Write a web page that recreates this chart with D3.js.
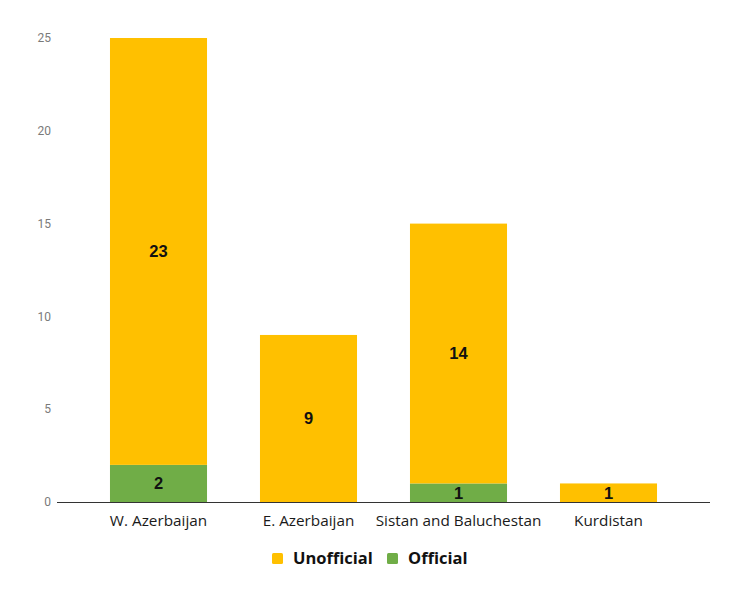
<!DOCTYPE html>
<html><head><meta charset="utf-8">
<script src="https://cdn.jsdelivr.net/npm/d3@7/dist/d3.min.js"></script>
<style>body{margin:0;background:#fff;} svg{display:block;}</style>
</head><body>
<svg id="c" width="739" height="600"></svg>
<script>
const categories = ["W. Azerbaijan", "E. Azerbaijan", "Sistan and Baluchestan", "Kurdistan"];
const official = [2, 0, 1, 0];
const unofficial = [23, 9, 14, 1];
const seriesNames = ["Official", "Unofficial"];
const seriesColors = ["#70ad47", "#ffc000"];
const yTicks = [0, 5, 10, 15, 20, 25];

const svg = d3.select("#c");
const rows = categories.map((c, i) => ({cat: c, Official: official[i], Unofficial: unofficial[i]}));
const stack = d3.stack().keys(seriesNames)(rows);

const x = d3.scaleBand().domain(categories).range([83.5, 683.5]).paddingInner(0.353).paddingOuter(0.1765);
const y = d3.scaleLinear().domain([0, 25]).range([502, 38]);

// y tick labels
svg.append("g").selectAll("text").data(yTicks).join("text")
  .attr("x", 51).attr("y", d => y(d)).attr("dy", "0.35em")
  .attr("text-anchor", "end")
  .attr("font-family", "Roboto, sans-serif").attr("font-size", 12).attr("fill", "#7a7a7a")
  .text(d => d);

// bars
const layers = svg.append("g").selectAll("g").data(stack).join("g")
  .attr("fill", (d, i) => seriesColors[i]);
layers.selectAll("rect").data(d => d.filter(s => s[1] - s[0] > 0)).join("rect")
  .attr("x", d => x(d.data.cat)).attr("width", x.bandwidth())
  .attr("y", d => y(d[1])).attr("height", d => y(d[0]) - y(d[1]));

// data labels
stack.forEach(layer => {
  svg.append("g").selectAll("text").data(layer.filter(s => s[1] - s[0] > 0)).join("text")
    .attr("x", d => x(d.data.cat) + x.bandwidth() / 2)
    .attr("y", d => (y(d[0]) + y(d[1])) / 2).attr("dy", "0.36em")
    .attr("text-anchor", "middle")
    .attr("font-family", "'Liberation Sans', Arial, sans-serif").attr("font-weight", "bold")
    .attr("font-size", 16.5).attr("fill", "#111")
    .text(d => d[1] - d[0]);
});

// x axis line
svg.append("line").attr("x1", 57).attr("x2", 710).attr("y1", y(0) + 0.5).attr("y2", y(0) + 0.5)
  .attr("stroke", "#333").attr("stroke-width", 1);

// category labels
svg.append("g").selectAll("text").data(categories).join("text")
  .attr("x", d => x(d) + x.bandwidth() / 2).attr("y", 526)
  .attr("text-anchor", "middle")
  .attr("font-family", "'Open Sans', sans-serif").attr("font-size", 15.3).attr("fill", "#1a1a1a")
  .text(d => d);

// legend
const legendItems = [{name: "Unofficial", color: seriesColors[1], x: 272}, {name: "Official", color: seriesColors[0], x: 387}];
const lg = svg.append("g").selectAll("g").data(legendItems).join("g")
  .attr("transform", d => `translate(${d.x},553)`);
lg.append("rect").attr("width", 11).attr("height", 11).attr("rx", 1.5).attr("fill", d => d.color);
lg.append("text").attr("x", 21).attr("y", 5.5).attr("dy", "0.36em")
  .attr("font-family", "'Open Sans', sans-serif").attr("font-weight", "bold").attr("font-size", 16.5)
  .attr("fill", "#111").text(d => d.name);
</script>
</body></html>
